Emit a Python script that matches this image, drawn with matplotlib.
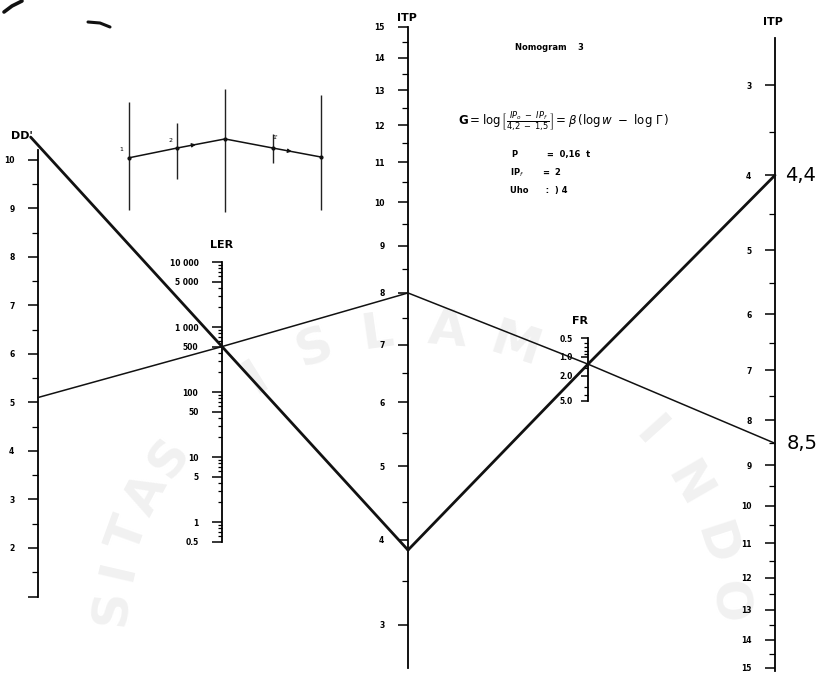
import matplotlib
matplotlib.use('Agg')
import matplotlib.pyplot as plt
import numpy as np
from matplotlib.ticker import FixedLocator, FixedFormatter, NullFormatter

# ---- scale data ----
dd_ticks = [1, 2, 3, 4, 5, 6, 7, 8, 9, 10]
dd_labels = ['', '2', '3', '4', '5', '6', '7', '8', '9', '10']
ler_ticks = [0.5, 1, 5, 10, 50, 100, 500, 1000, 5000, 10000]
ler_labels = ['0.5', '1', '5', '10', '50', '100', '500', '1 000', '5 000', '10 000']
itp_ticks = [3, 4, 5, 6, 7, 8, 9, 10, 11, 12, 13, 14, 15]
fr_ticks = [0.5, 1, 2, 5]
fr_labels = ['0.5', '1.0', '2.0', '5.0']

# ---- readings on the scales (where the lines cross) ----
dd_start = 10.3       # thick line, upper left
dd_thin = 5.1         # thin line, left
ler_pivot = 500       # both lines cross LER here
itp_high = 8.0        # middle ITP, thin line
itp_low = 3.87        # middle ITP, thick line
fr_pivot = 1.3        # both lines cross FR here
itp_r_thick = 4.0     # right ITP, annotated "4,4"
itp_r_thin = 8.5      # right ITP, annotated "8,5"

# inset sketch (top left)
inset_x = [0, 1, 2, 3, 4]
inset_path = [0.44, 0.515, 0.585, 0.515, 0.446]
inset_top = [0.87, 0.71, 0.97, 0.62, 0.92]
inset_bot = [0.04, 0.28, 0.02, 0.40, 0.04]

W, H = 834, 675
fig = plt.figure(figsize=(W / 100, H / 100), dpi=100)
fig.patch.set_facecolor('white')

# background layer for the faint watermark
bg = fig.add_axes([0, 0, 1, 1], zorder=-1)
bg.set_xlim(0, W)
bg.set_ylim(H, 0)
bg.axis('off')

wm = dict(fontsize=36, fontweight='bold', color='#f1f1f1', ha='center', va='center')
cx, cy, r = 420, 640, 310
for word, angles in [('SITAS', [-84, -77, -70, -62, -54]),
                     ('ISLAM', [-32, -20, -8, 5, 18]),
                     ('INDO', [48, 60, 72, 83])]:
    for ch, ang in zip(word, angles):
        a = np.radians(ang)
        bg.text(cx + r * np.sin(a), cy - r * np.cos(a), ch, rotation=-ang, **wm)


def scale_axis(x, top, bottom):
    ax = fig.add_axes([x / W, 1 - bottom / H, 0.0001, (bottom - top) / H])
    ax.set_xlim(0, 1)
    ax.patch.set_alpha(0)
    for s in ['right', 'top', 'bottom']:
        ax.spines[s].set_visible(False)
    ax.spines['left'].set_linewidth(1.3)
    ax.set_xticks([])
    ax.tick_params(axis='y', which='major', length=7, width=1.1, pad=10,
                   direction='out', labelsize=5.5)
    ax.tick_params(axis='y', which='minor', length=4, width=0.9, direction='out')
    return ax


# DD' (linear)
ax_dd = scale_axis(38, 150, 596.5)
ax_dd.set_ylim(1, 10.2)
ax_dd.yaxis.set_major_locator(FixedLocator(dd_ticks))
ax_dd.yaxis.set_major_formatter(FixedFormatter(dd_labels))
ax_dd.yaxis.set_minor_locator(FixedLocator(np.arange(1.5, 10.1, 1.0)))

# LER (log)
ax_ler = scale_axis(222, 262, 541.6)
ax_ler.set_yscale('log')
ax_ler.set_ylim(0.5, 10000)
ax_ler.yaxis.set_major_locator(FixedLocator(ler_ticks))
ax_ler.yaxis.set_major_formatter(FixedFormatter(ler_labels))
ax_ler.yaxis.set_minor_locator(matplotlib.ticker.LogLocator(subs=np.arange(2, 10), numticks=20))
ax_ler.yaxis.set_minor_formatter(NullFormatter())
ax_ler.tick_params(axis='y', which='minor', length=3)

# middle ITP
f_mid = (lambda v: np.log10(v + 2.75), lambda u: 10 ** u - 2.75)
ax_mid = scale_axis(408, 27, 668)
ax_mid.set_yscale('function', functions=f_mid)
ax_mid.set_ylim(2.55, 15)
ax_mid.yaxis.set_major_locator(FixedLocator(itp_ticks))
ax_mid.yaxis.set_major_formatter(FixedFormatter([str(t) for t in itp_ticks]))
ax_mid.yaxis.set_minor_locator(FixedLocator(np.arange(3.5, 15, 1.0)))

# FR (log)
ax_fr = scale_axis(588, 338, 401)
ax_fr.set_yscale('log')
ax_fr.set_ylim(5, 0.5)
ax_fr.yaxis.set_major_locator(FixedLocator(fr_ticks))
ax_fr.yaxis.set_major_formatter(FixedFormatter(fr_labels))
ax_fr.yaxis.set_minor_locator(FixedLocator([0.6, 0.7, 0.8, 0.9, 1.5, 3, 4]))
ax_fr.yaxis.set_minor_formatter(NullFormatter())
ax_fr.tick_params(axis='y', which='both', pad=6)
ax_fr.tick_params(axis='y', which='minor', length=3)
ax_fr.tick_params(axis='y', which='major', length=5)

# right ITP (reversed)
f_right = (lambda v: np.log10(v + 1.5), lambda u: 10 ** u - 1.5)
ax_r = scale_axis(775, 38, 670.6)
ax_r.set_yscale('function', functions=f_right)
ax_r.set_ylim(15.1, 2.55)
ax_r.yaxis.set_major_locator(FixedLocator(itp_ticks))
ax_r.yaxis.set_major_formatter(FixedFormatter([str(t) for t in itp_ticks]))
ax_r.yaxis.set_minor_locator(FixedLocator(np.arange(2.5, 15, 1.0)))

for a in [ax_dd, ax_ler, ax_mid, ax_fr, ax_r]:
    for lab in a.get_yticklabels():
        lab.set_fontweight('bold')

# overlay in pixel coordinates
ov = fig.add_axes([0, 0, 1, 1], zorder=5)
ov.set_xlim(0, W)
ov.set_ylim(H, 0)
ov.axis('off')
ov.patch.set_alpha(0)


def pt(ax, v):
    disp = ax.transData.transform((0, v))
    return ov.transData.inverted().transform(disp)


# thick line 1: DD' -> LER -> middle ITP (runs a little past DD')
p0 = pt(ax_dd, dd_start)
p1 = pt(ax_ler, ler_pivot)
p2 = pt(ax_mid, itp_low)
p0 = p0 + (p0 - p1) * 0.04
ov.plot([p0[0], p1[0], p2[0]], [p0[1], p1[1], p2[1]], color='#111111', lw=2.0,
        solid_capstyle='round', zorder=6)
# thick line 2: middle ITP -> FR -> right ITP
q1 = pt(ax_fr, fr_pivot)
q2 = pt(ax_r, itp_r_thick)
ov.plot([p2[0], q1[0], q2[0]], [p2[1], q1[1], q2[1]], color='#111111', lw=2.0,
        solid_capstyle='round', zorder=6)
# thin line 1: DD' -> LER -> middle ITP
t0 = pt(ax_dd, dd_thin)
t2 = pt(ax_mid, itp_high)
ov.plot([t0[0], p1[0], t2[0]], [t0[1], p1[1], t2[1]], color='#111111', lw=1.1, zorder=6)
# thin line 2: middle ITP -> FR -> right ITP
t3 = pt(ax_r, itp_r_thin)
ov.plot([t2[0], q1[0], t3[0]], [t2[1], q1[1], t3[1]], color='#111111', lw=1.1, zorder=6)

# axis titles
ov.text(22, 136, "DD'", fontsize=8, fontweight='bold', ha='center', va='center')
ov.text(222, 245, 'LER', fontsize=8, fontweight='bold', ha='center', va='center')
ov.text(407, 18, 'ITP', fontsize=8, fontweight='bold', ha='center', va='center')
ov.text(773, 22, 'ITP', fontsize=8, fontweight='bold', ha='center', va='center')
ov.text(580, 321, 'FR', fontsize=8, fontweight='bold', ha='center', va='center')

# handwritten readings
ov.text(q2[0] + 10, q2[1], '4,4', fontsize=14, ha='left', va='center')
ov.text(t3[0] + 12, t3[1], '8,5', fontsize=14, ha='left', va='center')

# title block
ov.text(515, 47, 'Nomogram    3', fontsize=6, fontweight='bold', ha='left', va='center')
ov.text(458, 122, r'$\mathbf{G} = \log\left[\frac{IP_o\ -\ IP_f}{4{,}2\ -\ 1{,}5}\right] = \beta\,(\log w\ -\ \log\,\Gamma\,)$',
        fontsize=8.5, ha='left', va='center')
ov.text(512, 155, 'P          =  0,16  t', fontsize=6, fontweight='bold', ha='left', va='center')
ov.text(510, 173, 'IP$_f$       =  2', fontsize=6, fontweight='bold', ha='left', va='center')
ov.text(510, 190, 'Uho      :  ) 4', fontsize=6, fontweight='bold', ha='left', va='center')

# scan marks top left
ov.plot([4, 12, 22], [12, 6, 1], color='#111111', lw=2.6, solid_capstyle='round')
ov.plot([88, 100, 110], [22, 23, 27], color='#111111', lw=2.2, solid_capstyle='round')

# inset sketch
ax_in = fig.add_axes([120 / W, 1 - 215 / H, 210 / W, 130 / H])
ax_in.set_xlim(-0.1875, 4.1875)
ax_in.set_ylim(0, 1)
ax_in.axis('off')
ax_in.patch.set_alpha(0)
ax_in.vlines(inset_x, inset_bot, inset_top, color='#222222', lw=1.0)
ax_in.plot(inset_x, inset_path, color='#111111', lw=1.1, marker='o', ms=2)
for i in [1, 3]:
    dy = inset_path[i + 1] - inset_path[i]
    xm = inset_x[i] + 0.4
    ym = inset_path[i] + dy * 0.4
    ax_in.annotate('', xy=(xm + 0.05, ym + dy * 0.05), xytext=(xm - 0.1, ym - dy * 0.1),
                   arrowprops=dict(arrowstyle='-|>', color='#111111', lw=0.8,
                                   mutation_scale=6))
ax_in.text(inset_x[0] - 0.12, inset_path[0] + 0.05, '1', fontsize=4.5, ha='right')
ax_in.text(inset_x[1] - 0.1, inset_path[1] + 0.05, '2', fontsize=4.5, ha='right')
ax_in.text(inset_x[3] + 0.05, inset_path[3] + 0.07, "1'", fontsize=4.5, ha='center')

fig.savefig('out.png', dpi=100)
